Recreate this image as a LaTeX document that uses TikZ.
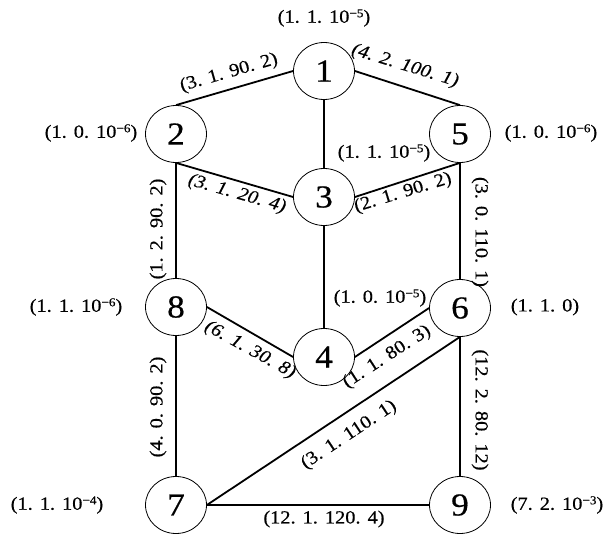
\documentclass[tikz,border=0pt]{standalone}
\usepackage{fontspec}
\setmainfont{Liberation Serif}[FakeStretch=1.1, FakeBold=0.5]
\usetikzlibrary{shapes.geometric}
\newcommand\sepdot{.\hspace{0.38em}}
\newcommand\supr[1]{\raisebox{5.5pt}{\fontsize{12}{12}\selectfont #1}}
\tikzset{
  vert/.style={ellipse, draw, line width=0.8pt, minimum width=61pt, minimum height=57pt, inner sep=0pt, font=\fontsize{32}{32}\selectfont},
  conn/.style={line width=1.8pt},
  lab/.style={font=\fontsize{18.5}{18.5}\selectfont, inner sep=0pt},
  ilab/.style={inner sep=0pt, font=\fontsize{18.5}{18.5}\selectfont\itshape},
}
\begin{document}
\begin{tikzpicture}[x=1pt,y=-1pt]
\useasboundingbox (0,0) rectangle (605,535);
% vertices
\node[vert] (n1) at (324,71) {1};
\node[vert] (n2) at (176,134) {2};
\node[vert] (n5) at (460,134) {5};
\node[vert] (n3) at (324,197) {3};
\node[vert] (n8) at (176,307) {8};
\node[vert] (n6) at (460,308) {6};
\node[vert] (n4) at (324,357) {4};
\node[vert] (n7) at (176,505) {7};
\node[vert] (n9) at (460,505) {9};
% connectors
\draw[conn] (n1.west) -- (n2.north);
\draw[conn] (n1.east) -- (n5.north);
\draw[conn] (n1.south) -- (n3.north);
\draw[conn] (n2.south) -- (n3.west);
\draw[conn] (n3.east) -- (n5.south);
\draw[conn] (n2.south) -- (n8.north);
\draw[conn] (n5.south) -- (n6.north);
\draw[conn] (n3.south) -- (n4.north);
\draw[conn] (n8.east) -- (n4.west);
\draw[conn] (n4.east) -- (n6.west);
\draw[conn] (n6.south) -- (n7.east);
\draw[conn] (n7.east) -- (n9.west);
\draw[conn] (n6.south) -- (n9.north);
\draw[conn] (n8.south) -- (n7.north);
% edge labels
\node[lab, rotate=16] (e12) at (229,73) {(3\sepdot 1\sepdot 90\sepdot 2)};
\node[ilab, rotate=-17] (e15) at (405,66) {(4\sepdot 2\sepdot 100\sepdot 1)};
\node[ilab, rotate=-16] (e23) at (237,194) {(3\sepdot 1\sepdot 20\sepdot 4)};
\node[lab, rotate=17] (e35) at (403,193) {(2\sepdot 1\sepdot 90\sepdot 2)};
\node[lab, rotate=90] (e28) at (158,229) {(1\sepdot 2\sepdot 90\sepdot 2)};
\node[lab, rotate=-90] (e56) at (480,232) {(3\sepdot 0\sepdot 110\sepdot 1)};
\node[ilab, rotate=-29] (e84) at (250,350) {(6\sepdot 1\sepdot 30\sepdot 8)};
\node[lab, rotate=33] (e46) at (387,357) {(1\sepdot 1\sepdot 80\sepdot 3)};
\node[lab, rotate=90] (e87) at (158,407) {(4\sepdot 0\sepdot 90\sepdot 2)};
\node[lab, rotate=-90] (e69) at (480,410) {(12\sepdot 2\sepdot 80\sepdot 12)};
\node[lab, rotate=33.5] (e76) at (349,435) {(3\sepdot 1\sepdot 110\sepdot 1)};
\node[lab] (e79) at (324,519) {(12\sepdot 1\sepdot 120\sepdot 4)};
% vertex labels
\node[lab] (t1) at (324,18) {(1\sepdot 1\sepdot 10\supr{−5})};
\node[lab] (t2) at (91,133) {(1\sepdot 0\sepdot 10\supr{−6})};
\node[lab] (t5) at (551,133) {(1\sepdot 0\sepdot 10\supr{−6})};
\node[lab] (t3) at (384,153) {(1\sepdot 1\sepdot 10\supr{−5})};
\node[lab] (t8) at (76,307) {(1\sepdot 1\sepdot 10\supr{−6})};
\node[lab] (t4) at (380,298) {(1\sepdot 0\sepdot 10\supr{−5})};
\node[lab] (t6) at (545,307) {(1\sepdot 1\sepdot 0)};
\node[lab] (t7) at (57,505) {(1\sepdot 1\sepdot 10\supr{−4})};
\node[lab] (t9) at (557,505) {(7\sepdot 2\sepdot 10\supr{−3})};
\end{tikzpicture}
\end{document}
